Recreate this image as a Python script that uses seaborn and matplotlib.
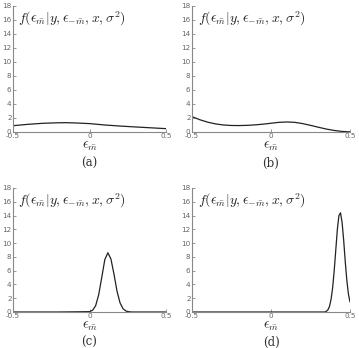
import matplotlib
matplotlib.use("Agg")
import matplotlib.pyplot as plt
import seaborn as sns
import pandas as pd

# values, eps on x, density on y
eps_a = [-0.5, -0.4, -0.3, -0.2, -0.15, -0.1, 0.0, 0.1, 0.2, 0.3, 0.4, 0.5]
dens_a = [0.9, 1.1, 1.25, 1.32, 1.33, 1.3, 1.2, 1.0, 0.85, 0.72, 0.6, 0.48]

eps_b = [-0.5, -0.45, -0.4, -0.35, -0.3, -0.25, -0.2, -0.15, -0.1, -0.05, 0.0,
         0.05, 0.1, 0.15, 0.2, 0.25, 0.3, 0.35, 0.4, 0.45, 0.5]
dens_b = [2.2, 1.75, 1.4, 1.15, 1.0, 0.93, 0.92, 0.95, 1.02, 1.12, 1.25,
          1.38, 1.43, 1.38, 1.2, 0.95, 0.68, 0.42, 0.22, 0.08, 0.02]

eps_c = [-0.5, -0.2, 0.0, 0.02, 0.04, 0.06, 0.08, 0.1, 0.12, 0.14, 0.16,
         0.18, 0.2, 0.22, 0.24, 0.26, 0.28, 0.5]
dens_c = [0.0, 0.0, 0.05, 0.25, 0.9, 2.5, 5.0, 7.6, 8.6, 7.7, 5.5,
          3.0, 1.3, 0.45, 0.12, 0.03, 0.0, 0.0]

eps_d = [-0.5, 0.0, 0.34, 0.35, 0.36, 0.37, 0.38, 0.39, 0.4, 0.41, 0.42,
         0.43, 0.44, 0.45, 0.46, 0.47, 0.48, 0.49, 0.5]
dens_d = [0.0, 0.0, 0.0, 0.1, 0.3, 0.8, 1.8, 3.5, 6.0, 9.0, 12.0,
          14.0, 14.4, 13.0, 10.4, 7.3, 4.6, 2.6, 1.45]

panels = [
    ("(a)", eps_a, dens_a, [13, 6, 153, 126]),
    ("(b)", eps_b, dens_b, [192, 6, 158, 126]),
    ("(c)", eps_c, dens_c, [13, 188, 153, 124]),
    ("(d)", eps_d, dens_d, [192, 188, 158, 124]),
]

sns.set_style("ticks")
plt.rcParams["mathtext.fontset"] = "cm"
W, H = 359, 348
fig = plt.figure(figsize=(W / 100, H / 100), dpi=100)

title = r"$f(\epsilon_{\bar{m}}|y,\epsilon_{-\bar{m}},x,\sigma^2)$"

for cap, xs, ys, (l, t, w, h) in panels:
    ax = fig.add_axes([l / W, (H - t - h) / H, w / W, h / H])
    df = pd.DataFrame({"eps": xs, "dens": ys})
    sns.lineplot(data=df, x="eps", y="dens", ax=ax, color="#222222",
                 linewidth=0.9)
    ax.set_xlim(-0.5, 0.5)
    ax.set_ylim(0, 18)
    ax.set_xticks([-0.5, 0, 0.5])
    ax.set_xticklabels(["-0.5", "0", "0.5"])
    ax.set_yticks(range(0, 19, 2))
    ax.tick_params(direction="in", length=2, width=0.6, colors="#888888",
                   labelcolor="#666666", labelsize=5.2, pad=1)
    sns.despine(ax=ax)
    for s in ("left", "bottom"):
        ax.spines[s].set_color("#888888")
        ax.spines[s].set_linewidth(0.8)
    ax.set_ylabel("")
    ax.set_xlabel(r"$\epsilon_{\bar{m}}$", fontsize=10, labelpad=0)
    ax.text(0.035, 0.97, title, transform=ax.transAxes, fontsize=10,
            va="top", ha="left", color="#222222")
    cy = t + h + 31 if t < 100 else t + h + 30
    fig.text((l + w / 2) / W, 1 - cy / H, cap, ha="center", va="center",
             fontsize=8.5, family="DejaVu Serif", color="#333333")

fig.savefig("out.png", dpi=100)
